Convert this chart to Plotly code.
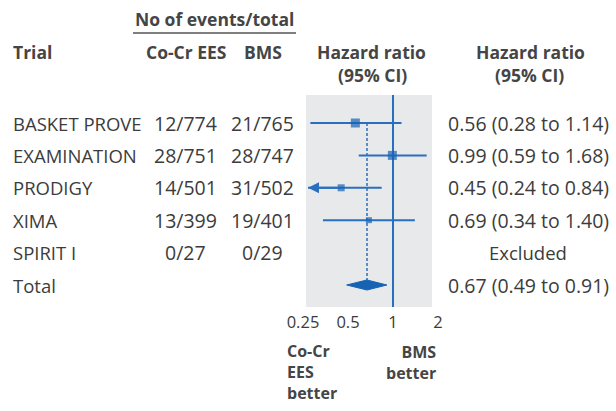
import math
import plotly.graph_objects as go

W, H = 616, 411

# ---------------- data ----------------
trials = ["BASKET PROVE", "EXAMINATION", "PRODIGY", "XIMA", "SPIRIT I"]
ees_events = ["12/774", "28/751", "14/501", "13/399", "0/27"]
bms_events = ["21/765", "28/747", "31/502", "19/401", "0/29"]
hr = [0.56, 0.99, 0.45, 0.69, None]
hr_lo = [0.28, 0.59, 0.24, 0.34, None]
hr_hi = [1.14, 1.68, 0.84, 1.40, None]
hr_text = ["0.56 (0.28 to 1.14)", "0.99 (0.59 to 1.68)", "0.45 (0.24 to 0.84)",
           "0.69 (0.34 to 1.40)", "Excluded"]
marker_px = [9, 9, 7, 6]
total_label = "Total"
total_hr, total_lo, total_hi = 0.67, 0.49, 0.91
total_text = "0.67 (0.49 to 0.91)"
tick_vals = [0.25, 0.5, 1, 2]
tick_text = ["0.25", "0.5", "1", "2"]
null_hr = 1.0
panel_min = 0.27   # lower display limit of the panel (arrow drawn beyond)

# ---------------- style ----------------
BLUE = "#2a6fbd"
DBLUE = "#1763b3"
PANEL = "#e8e9eb"
TXT = "#3c3c3c"
HDR = "#454545"
FONT = "Open Sans"
FS_ROW = 18.5
FS_NUM = 19.5
FS_HDR = 17.5
FS_TICK = 16.5
FS_FAV = 16


def px(x):
    return x / W


def py(y):
    return 1 - y / H


fig = go.Figure()

rows = list(range(len(trials)))
total_row = len(trials)

ann = []

# CI lines
cx, cy = [], []
for i in rows:
    if hr[i] is None:
        continue
    lo = hr_lo[i]
    if lo < panel_min:
        # arrow from estimate to the panel edge (log axis -> log10 coords)
        ann.append(dict(x=math.log10(panel_min), y=i, ax=math.log10(hr[i]), ay=i,
                        xref="x", yref="y", axref="x", ayref="y", text="",
                        showarrow=True, arrowhead=2, arrowsize=1.1, arrowwidth=2,
                        arrowcolor=BLUE, standoff=0, startstandoff=0))
        lo = panel_min
    cx += [lo, hr_hi[i], None]
    cy += [i, i, None]

fig.add_trace(go.Scatter(x=cx, y=cy, mode="lines",
                         line=dict(color=BLUE, width=2), hoverinfo="skip"))

# dashed pooled line
dh = 0.155
fig.add_trace(go.Scatter(x=[total_hr, total_hr], y=[0, total_row - dh], mode="lines",
                         line=dict(color=BLUE, width=1.5, dash="3px,2px"),
                         hoverinfo="skip"))

# point estimates
est_x = [hr[i] for i in rows if hr[i] is not None]
est_y = [i for i in rows if hr[i] is not None]
fig.add_trace(go.Scatter(x=est_x, y=est_y, mode="markers",
                         marker=dict(symbol="square", size=marker_px, color=DBLUE,
                                     line=dict(width=0)),
                         hoverinfo="skip"))

# diamond
fig.add_trace(go.Scatter(
    x=[total_lo, total_hr, total_hi, total_hr, total_lo],
    y=[total_row, total_row - dh, total_row, total_row + dh, total_row],
    mode="lines", fill="toself", fillcolor=DBLUE,
    line=dict(color=DBLUE, width=1), hoverinfo="skip"))

shapes = [
    dict(type="rect", xref="paper", yref="paper", x0=px(306), x1=px(432),
         y0=py(307), y1=py(95), fillcolor=PANEL, line=dict(width=0), layer="below"),
    dict(type="line", xref="x", yref="paper", x0=null_hr, x1=null_hr,
         y0=py(307), y1=py(95), line=dict(color=BLUE, width=2), layer="below"),
    dict(type="line", xref="paper", yref="paper", x0=px(133), x1=px(296),
         y0=py(33), y1=py(33), line=dict(color="#555555", width=1.5)),
]


def add_text(text, x, y, xanchor="center", bold=False, yref="paper", size=None,
             align="center"):
    if size is None:
        size = FS_HDR if bold else FS_ROW
    ann.append(dict(text=("<b>%s</b>" % text) if bold else text,
                    x=px(x), y=(py(y) if yref == "paper" else y),
                    xref="paper", yref=yref, xanchor=xanchor, yanchor="middle",
                    showarrow=False, align=align,
                    font=dict(family=FONT, size=size, color=HDR if bold else TXT)))


# headers
add_text("No of events/total", 214, 19, bold=True)
add_text("Trial", 11, 52, xanchor="left", bold=True)
add_text("Co-Cr EES", 186, 52, bold=True)
add_text("BMS", 263, 52, bold=True)
add_text("Hazard ratio", 371, 52, bold=True)
add_text("(95% CI)", 372, 75, bold=True)
add_text("Hazard ratio", 530, 52, bold=True)
add_text("(95% CI)", 529, 75, bold=True)

# rows
for i in rows:
    add_text(trials[i], 11, i, xanchor="left", yref="y")
    add_text(ees_events[i], 185, i, yref="y", size=FS_NUM)
    add_text(bms_events[i], 262, i, yref="y", size=FS_NUM)
    add_text(hr_text[i], 528, i, yref="y", size=FS_NUM if hr[i] is not None else FS_ROW)
add_text(total_label, 11, total_row, xanchor="left", yref="y")
add_text(total_text, 528, total_row, yref="y", size=FS_NUM)

# favours labels
add_text("Co-Cr<br>EES<br>better", 285, 372, xanchor="left", bold=True,
         size=FS_FAV, align="left")
add_text("BMS<br>better", 438, 362, xanchor="right", bold=True,
         size=FS_FAV, align="right")

x_lo_px, x_hi_px, one_px, per_doubling = 280, 450, 393, 45.0
xr = [math.log10(2 ** ((x_lo_px - one_px) / per_doubling)),
      math.log10(2 ** ((x_hi_px - one_px) / per_doubling))]
row0_px, pitch, ybot_px = 123, 32.4, 307
yr = [(ybot_px - row0_px) / pitch, -row0_px / pitch]

fig.update_layout(
    width=W, height=H, margin=dict(l=0, r=0, t=0, b=0),
    paper_bgcolor="white", plot_bgcolor="rgba(0,0,0,0)",
    showlegend=False, shapes=shapes, annotations=ann,
    font=dict(family=FONT, size=FS_ROW, color=TXT),
    xaxis=dict(type="log", domain=[px(x_lo_px), px(x_hi_px)], range=xr,
               tickvals=tick_vals, ticktext=tick_text, ticks="",
               ticklabelstandoff=3,
               showgrid=False, zeroline=False, showline=False,
               tickfont=dict(family=FONT, size=FS_TICK, color=TXT)),
    yaxis=dict(domain=[py(ybot_px), 1], range=yr, visible=False,
               showgrid=False, zeroline=False),
)

fig.write_html("out.html")
